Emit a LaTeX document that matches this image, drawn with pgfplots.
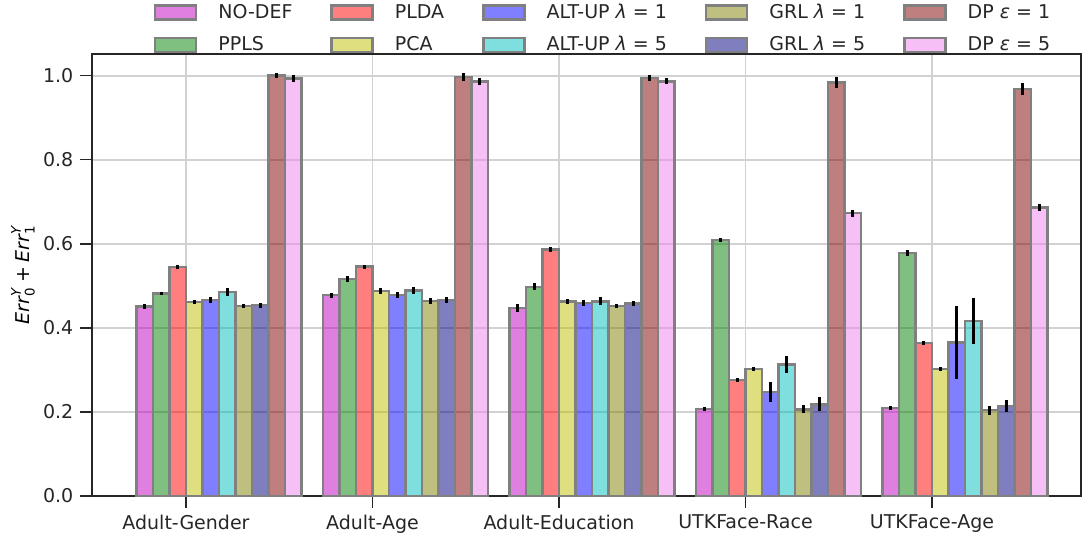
\documentclass[border=0pt]{standalone}
\usepackage{amsmath}
\usepackage{fontspec}
\setmainfont{DejaVu Sans}
\usepackage{pgfplots}
\pgfplotsset{compat=1.18}

% matplotlib base colours (drawn at half opacity)
\definecolor{cM}{RGB}{191,0,191}
\definecolor{cG}{RGB}{0,128,0}
\definecolor{cR}{RGB}{255,0,0}
\definecolor{cY}{RGB}{191,191,0}
\definecolor{cB}{RGB}{0,0,255}
\definecolor{cC}{RGB}{0,191,191}
\definecolor{cOlive}{RGB}{128,128,0}
\definecolor{cNavy}{RGB}{0,0,128}
\definecolor{cMaroon}{RGB}{128,0,0}
\definecolor{cViolet}{RGB}{238,130,238}
\definecolor{txt}{RGB}{38,38,38}

\pgfplotsset{
  mybar/.style={
    ybar, bar width=0.0885, bar shift=0pt,
    x filter/.expression={x+(#1)},
    draw=black!50, line width=1.2bp,
    fill opacity=0.5,
    error bars/.cd, y dir=both, y explicit, error mark=none,
    error bar style={black, opacity=1, line width=1.5bp, line cap=rect},
    /pgfplots/.cd,
    legend image code/.code={\draw[##1] (0bp,-3.5bp) rectangle (20.5bp,3.5bp);},
  },
}

\begin{document}
\fontsize{9.5bp}{11.4bp}\selectfont
\begin{tikzpicture}
\begin{axis}[
    name=ax,
    scale only axis,
    width=494.5bp, height=221bp,
    xmin=-0.504, xmax=4.799,
    ymin=0, ymax=1.052,
    xtick={0,1,2,3,4},
    xticklabels={Adult-Gender,Adult-Age,Adult-Education,UTKFace-Race,UTKFace-Age},
    ytick={0,0.2,0.4,0.6,0.8,1.0},
    yticklabel style={/pgf/number format/.cd, fixed, fixed zerofill, precision=1},
    /pgf/number format/assume math mode=true,
    tick label style={text=txt},
    xtick pos=bottom, ytick pos=left,
    tick align=outside,
    major tick length=6bp,
    tick style={txt, line width=0.6bp},
    axis line style={txt, line width=1bp},
    grid=major,
    major grid style={gray!35, line width=0.8bp},
    every axis y label/.style={at={(axis description cs:-0.0698,0.5)}, rotate=90, anchor=center},
    ylabel={$\textit{Err}^{\textit{Y}}_{\text{0}}\mathbin{\text{+}}\textit{Err}^{\textit{Y}}_{\text{1}}$},
    legend columns=5,
    legend cell align=left,
    legend style={draw=none, fill=none, inner sep=0pt, outer sep=0pt,
      at={(axis description cs:0.0627,1.1222)}, anchor=north west,
      text=txt,
      /tikz/every odd column/.append style={column sep=8.5bp},
      /tikz/every even column/.append style={column sep=17bp},
      /tikz/column 8/.append style={column sep=22bp},
      /tikz/row sep=3.5bp},
]

% legend order is row-wise; each bar's place in its group comes from the x offset
\addplot[mybar=-0.22125, fill=cM] coordinates {
  (0,0.451) +- (0,0.002) (1,0.478) +- (0,0.002) (2,0.448) +- (0,0.006) (3,0.207) +- (0,0.001) (4,0.209) +- (0,0.001)};
\addlegendentry{NO-DEF}
\addplot[mybar=-0.04425, fill=cR] coordinates {
  (0,0.545) +- (0,0.001) (1,0.546) +- (0,0.001) (2,0.587) +- (0,0.002) (3,0.276) +- (0,0.001) (4,0.364) +- (0,0.001)};
\addlegendentry{PLDA}
\addplot[mybar=0.13275, fill=cB] coordinates {
  (0,0.467) +- (0,0.003) (1,0.478) +- (0,0.003) (2,0.459) +- (0,0.003) (3,0.247) +- (0,0.020) (4,0.365) +- (0,0.084)};
\addlegendentry{ALT-UP \textit{λ} = 1}
\addplot[mybar=0.30975, fill=cOlive] coordinates {
  (0,0.452) +- (0,0.002) (1,0.464) +- (0,0.004) (2,0.452) +- (0,0.002) (3,0.206) +- (0,0.006) (4,0.204) +- (0,0.0075)};
\addlegendentry{GRL \textit{λ} = 1}
\addplot[mybar=0.48675, fill=cMaroon] coordinates {
  (0,1.001) +- (0,0.003) (1,0.997) +- (0,0.006) (2,0.995) +- (0,0.004) (3,0.984) +- (0,0.010) (4,0.969) +- (0,0.011)};
\addlegendentry{DP \textit{ε} = 1}

\addplot[mybar=-0.13275, fill=cG] coordinates {
  (0,0.482) +- (0,0.001) (1,0.517) +- (0,0.004) (2,0.498) +- (0,0.005) (3,0.609) +- (0,0.002) (4,0.578) +- (0,0.003)};
\addlegendentry{PPLS}
\addplot[mybar=0.04425, fill=cY] coordinates {
  (0,0.462) +- (0,0.001) (1,0.488) +- (0,0.004) (2,0.463) +- (0,0.002) (3,0.302) +- (0,0.001) (4,0.302) +- (0,0.001)};
\addlegendentry{PCA}
\addplot[mybar=0.22125, fill=cC] coordinates {
  (0,0.486) +- (0,0.006) (1,0.489) +- (0,0.005) (2,0.463) +- (0,0.006) (3,0.313) +- (0,0.016) (4,0.417) +- (0,0.051)};
\addlegendentry{ALT-UP \textit{λ} = 5}
\addplot[mybar=0.39825, fill=cNavy] coordinates {
  (0,0.454) +- (0,0.002) (1,0.467) +- (0,0.004) (2,0.458) +- (0,0.002) (3,0.218) +- (0,0.013) (4,0.214) +- (0,0.010)};
\addlegendentry{GRL \textit{λ} = 5}
\addplot[mybar=0.57525, fill=cViolet] coordinates {
  (0,0.994) +- (0,0.005) (1,0.987) +- (0,0.005) (2,0.987) +- (0,0.004) (3,0.673) +- (0,0.005) (4,0.687) +- (0,0.004)};
\addlegendentry{DP \textit{ε} = 5}

\end{axis}
\pgfresetboundingbox
\path ([shift={(-46bp,-20bp)}]ax.south west) rectangle ([shift={(0.5bp,27bp)}]ax.north east);
\end{tikzpicture}
\end{document}
